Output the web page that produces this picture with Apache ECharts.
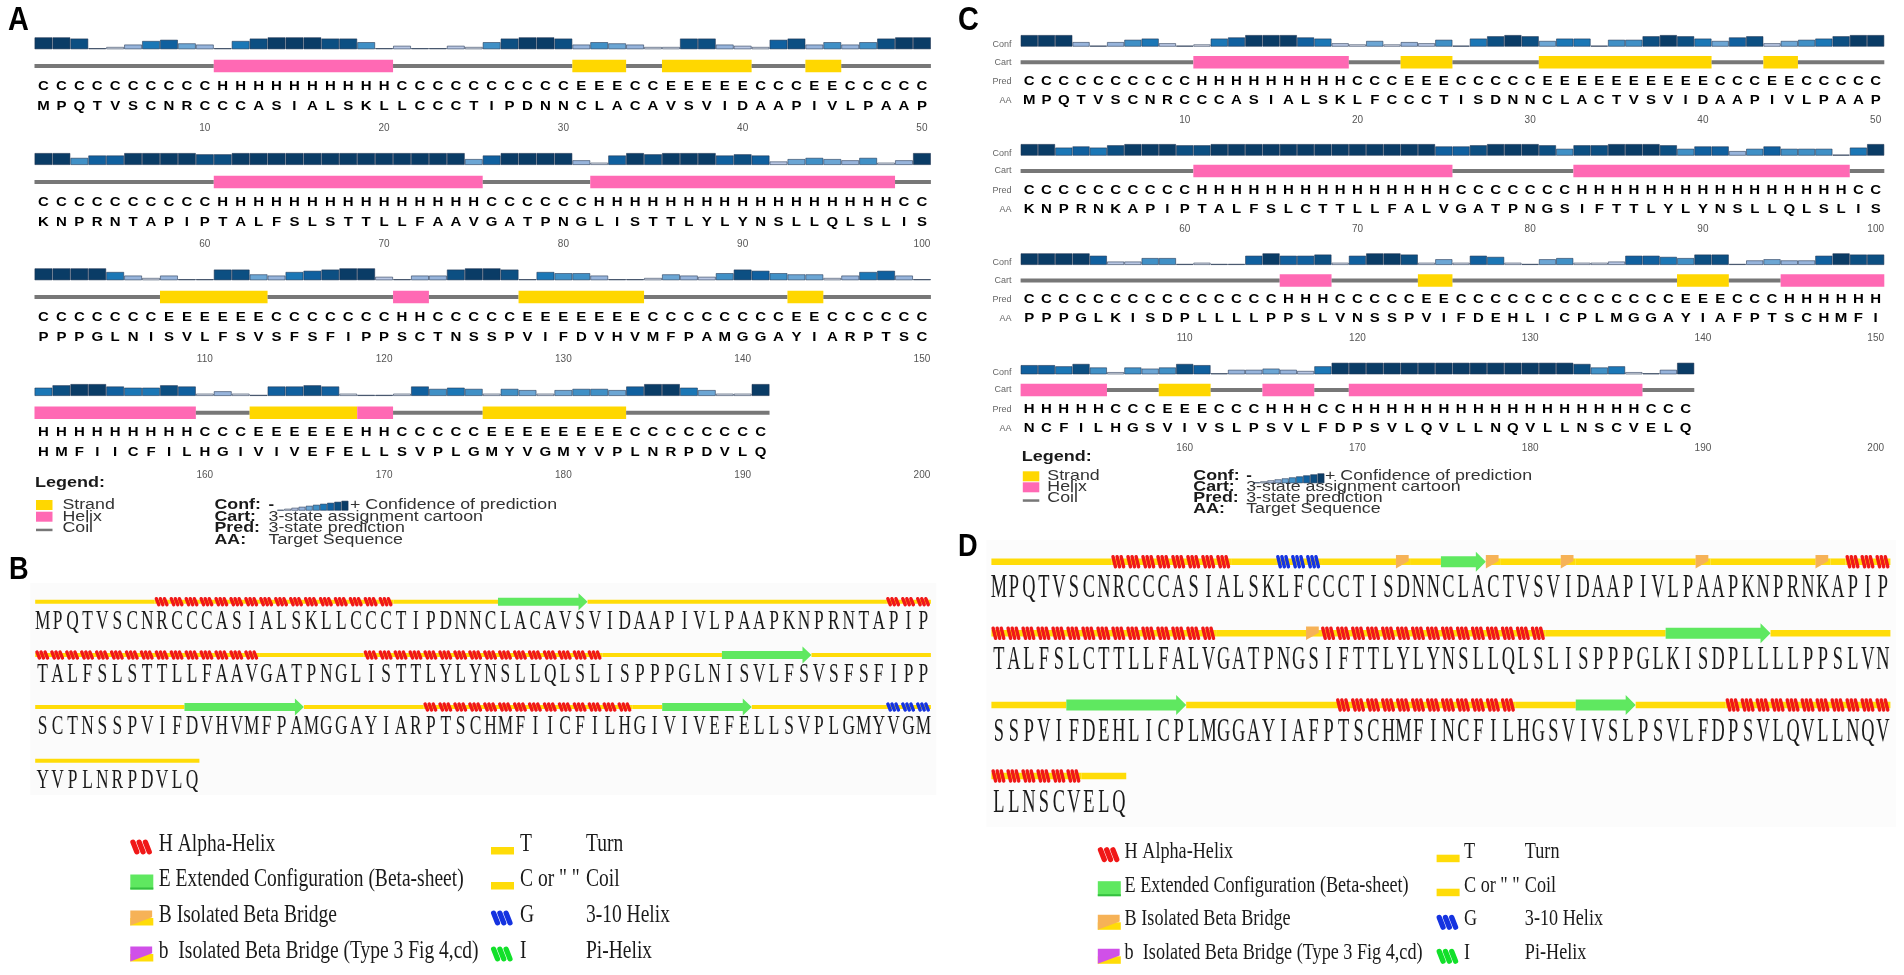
<!DOCTYPE html>
<html>
<head>
<meta charset="utf-8">
<title>Secondary structure prediction</title>
<style>
html, body { margin: 0; padding: 0; background: #fff; }
#chart { width: 1904px; height: 975px; }
</style>
<script src="https://cdn.jsdelivr.net/npm/echarts@6/dist/echarts.min.js"></script>
</head>
<body>
<div id="chart"></div>
<script>
// panel A: target sequence, 3-state prediction, confidence (0-9)
var seqA = [
    'MPQTVSCNRCCCASIALSKLLCCCTIPDNNCLACAVSVIDAAPIVLPAAP',
    'KNPRNTAPIPTALFSLSTTLLFAAVGATPNGLISTTLYLYNSLLQLSLIS',
    'PPPGLNISVLFSVSFSFIPPSCTNSSPVIFDVHVMFPAMGGAYIARPTSC',
    'HMFIICFILHGIVIVEFELLSVPLGMYVGMYVPLNRPDVLQ'
];
var predA = [
    'CCCCCCCCCCHHHHHHHHHHCCCCCCCCCCEEECCEEEEECCCEECCCCC',
    'CCCCCCCCCCHHHHHHHHHHHHHHHCCCCCCHHHHHHHHHHHHHHHHHCC',
    'CCCCCCCEEEEEECCCCCCCHHCCCCCEEEEEEECCCCCCCCEECCCCCC',
    'HHHHHHHHHCCCEEEEEEHHCCCCCEEEEEEEECCCCCCCC'
];
var confA1 = [9,9,8,0,1,3,6,7,4,3,0,6,8,9,9,9,8,8,5,0,2,0,0,2,1,5,8,9,9,8,3,5,4,3,1,1,8,8,3,2,1,7,8,3,5,3,5,8,9,9];
var confA2 = [9,9,5,7,7,9,9,9,9,8,8,9,9,9,9,9,9,9,9,9,9,9,9,9,4,7,9,9,9,9,3,1,7,9,8,9,9,9,7,8,7,2,4,5,4,3,5,1,3,9];
var confA3 = [9,9,9,9,6,3,1,3,0,0,8,8,4,3,6,7,8,9,9,2,0,3,3,8,9,9,8,0,6,5,5,3,0,0,1,4,3,2,5,8,7,5,4,4,1,3,6,7,3,0];
var confA4 = [6,8,9,9,7,6,6,8,7,1,3,1,0,7,7,8,7,1,0,0,1,7,5,6,5,1,5,4,1,4,5,5,4,7,9,9,6,4,1,1,9];

// panel C
var seqC = [
    'MPQTVSCNRCCCASIALSKLFCCCTISDNNCLACTVSVIDAAPIVLPAAP',
    'KNPRNKAPIPTALFSLCTTLLFALVGATPNGSIFTTLYLYNSLLQLSLIS',
    'PPPGLKISDPLLLLPPSLVNSSPVIFDEHLICPLMGGAYIAFPTSCHMFI',
    'NCFILHGSVIVSLPSVLFDPSVLQVLLNQVLLNSCVELQ'
];
var predC = [
    'CCCCCCCCCCHHHHHHHHHCCCEEECCCCCEEEEEEEEEECCCEECCCCC',
    'CCCCCCCCCCHHHHHHHHHHHHHHHCCCCCCCHHHHHHHHHHHHHHHHCC',
    'CCCCCCCCCCCCCCCHHHCCCCCEECCCCCCCCCCCCCEEECCCHHHHHH',
    'HHHHHCCCEEECCCHHHCCHHHHHHHHHHHHHHHHHCCC'
];
var confC1 = [9,9,9,3,0,3,5,6,2,0,1,6,7,9,9,9,7,6,2,1,4,1,3,2,5,0,6,8,9,8,4,6,6,0,5,5,8,9,8,6,4,7,8,2,4,5,6,8,9,9];
var confC2 = [9,9,6,7,6,8,9,9,9,8,8,9,9,9,9,9,9,9,9,9,9,9,9,9,7,7,8,9,9,9,8,5,8,8,9,9,9,8,5,7,7,3,5,7,5,5,5,0,6,9];
var confC3 = [9,9,9,9,7,2,2,5,5,0,1,0,0,7,9,7,7,8,1,7,9,9,8,1,4,1,7,6,1,0,4,5,1,1,2,7,7,6,5,8,8,0,3,4,3,3,7,9,8,8];
var confC4 = [7,7,6,8,5,1,5,4,5,8,7,0,3,3,4,3,2,6,9,9,9,9,9,9,9,9,9,9,9,9,9,9,8,5,6,1,0,3,9];

// panels B and D: per residue structure codes
var seqB = [
    'MPQTVSCNRCCCASIALSKLLCCCTIPDNNCLACAVSVIDAAPIVLPAAPKNPRNTAPIP',
    'TALFSLSTTLLFAAVGATPNGLISTTLYLYNSLLQLSLISPPPGLNISVLFSVSFSFIPP',
    'SCTNSSPVIFDVHVMFPAMGGAYIARPTSCHMFIICFILHGIVIVEFELLSVPLGMYVGM',
    'YVPLNRPDVLQ'
];
var ssB = [
    'CCCCCCCCHHHHHHHHHHHHHHHHCCCCCCCEEEEEECCCCCCCCCCCCCCCCCCCCHHH',
    'HHHHHHHHHHHHHHHCCCCCCCHHHHHHHHHHHHHHHHCCCCCCCCEEEEEECCCCCCCC',
    'CCCCCCCCCCEEEEEEEECCCCCCCCHHHHHHHHHHHHHHCCEEEEEECCCCCCCCCGGG',
    'CCCCCCCCCCC'
];
var seqD = [
    'MPQTVSCNRCCCASIALSKLFCCCTISDNNCLACTVSVIDAAPIVLPAAPKNPRNKAPIP',
    'TALFSLCTTLLFALVGATPNGSIFTTLYLYNSLLQLSLISPPPGLKISDPLLLLPPSLVN',
    'SSPVIFDEHLICPLMGGAYIAFPTSCHMFINCFILHGSVIVSLPSVLFDPSVLQVLLNQV',
    'LLNSCVELQ'
];
var ssD = [
    'CCCCCCCCHHHHHHHHCCCGGGCCCCCBCCEEEBCCCCBCCCCCCCCBCCCCCCCBCHHH',
    'HHHHHHHHHHHHHHHCCCCCCBHHHHHHHHHHHHHHHCCCCCCCCEEEEEEECCCCCCCC',
    'CCCCCEEEEEEEECCCCCCCCCCHHHHHHHHHHHHCCCCEEEECCCCCCHHHHHHHHHHH',
    'HHHHHHCCC'
];

var confLegend = [0,1,2,3,4,5,6,7,8,9];
var confColors = ['#3a3f46','#e2e5ee','#b8c6e2','#97b4db','#6ca6d4','#4090c6','#1b77b6','#10609f','#0c4f82','#0a3c66'];
var residueLabels = ['Cart','Pred','AA'];

var grids = [], xAxes = [], yAxes = [], series = [];

function runsOf(str) {
    var runs = [], start = 0;
    for (var i = 1; i <= str.length; i++) {
        if (i === str.length || str[i] !== str[start]) {
            runs.push([start, 0, i - 1]);
            start = i;
        }
    }
    return runs;
}

function addGrid(top, height, left, width, xAxis, yAxis) {
    grids.push({ left: left, top: top, width: width, height: height });
    xAxis.gridIndex = yAxis.gridIndex = grids.length - 1;
    xAxes.push(xAxis);
    yAxes.push(yAxis);
    return grids.length - 1;
}

function hiddenCategory(data) {
    return {
        type: 'category', data: data,
        axisLine: { show: false }, axisTick: { show: false },
        axisLabel: { show: false }, splitLine: { show: false }
    };
}

function numbers(from, count) {
    var out = [];
    for (var i = 0; i < count; i++) out.push(from + i);
    return out;
}

function letterSeries(idx, letters, rowIndex, font, scaleX, fill) {
    return {
        type: 'custom',
        xAxisIndex: idx, yAxisIndex: idx,
        silent: true,
        data: letters.split('').map(function (c, i) { return [i, rowIndex]; }),
        encode: { x: 0, y: 1 },
        renderItem: function (params, api) {
            var p = api.coord([api.value(0), api.value(1)]);
            return {
                type: 'text', x: p[0], y: p[1], scaleX: scaleX,
                style: {
                    text: letters[params.dataIndex], font: font, fill: fill,
                    textAlign: 'center', textVerticalAlign: 'middle'
                }
            };
        }
    };
}

function confSeries(idx, values) {
    return {
        type: 'bar',
        xAxisIndex: idx, yAxisIndex: idx,
        silent: true,
        barCategoryGap: '0%',
        data: values.map(function (v) {
            return {
                value: v + 1,
                itemStyle: { color: confColors[v], borderColor: 'rgba(30,50,80,0.7)', borderWidth: 0.8 }
            };
        })
    };
}

// psipred style panel (A, C)
function addPsipredPanel(seq, pred, conf, lay) {
    lay.rows.forEach(function (row, r) {
        var first = r * 50 + 1;
        var confIdx = addGrid(row.conf, lay.confH, lay.left, lay.width,
            hiddenCategory(numbers(first, 50)),
            {
                type: 'value', min: 0, max: 10, interval: 2,
                axisLine: { show: false }, axisTick: { show: false }, splitLine: { show: false },
                axisLabel: {
                    show: lay.rowLabels, fontSize: 9, color: '#666', margin: 9, fontFamily: 'Liberation Sans',
                    formatter: function (v) { return v === 2 ? 'Conf' : ''; }
                }
            });
        series.push(confSeries(confIdx, conf[r]));

        var xa = hiddenCategory(numbers(first, 50));
        xa.position = 'bottom';
        xa.axisLabel = {
            show: true, fontSize: 10, color: '#555', margin: lay.tickMargin, fontFamily: 'Liberation Sans',
            hideOverlap: false,
            interval: function (i, v) { return Number(v) % 10 === 0; }
        };
        var ya = hiddenCategory(residueLabels);
        ya.inverse = true;
        ya.axisLabel = { show: lay.rowLabels, fontSize: 9, color: '#666', margin: 9, fontFamily: 'Liberation Sans' };
        var idx = addGrid(row.cart - lay.band / 2, lay.band * 3, lay.left, lay.width, xa, ya);

        var p = pred[r];
        series.push({
            type: 'custom', xAxisIndex: idx, yAxisIndex: idx, silent: true,
            data: runsOf(p), encode: { x: 0, y: 1 },
            renderItem: function (params, api) {
                var w = api.size([1, 0])[0];
                var a = api.coord([api.value(0), 0]);
                var b = api.coord([api.value(2), 0]);
                var code = p[api.value(0)];
                var h = code === 'C' ? 4 : lay.cartH;
                return {
                    type: 'rect',
                    shape: { x: a[0] - w / 2, y: a[1] - h / 2, width: b[0] - a[0] + w, height: h },
                    style: { fill: code === 'H' ? '#ff69b4' : code === 'E' ? '#ffd700' : '#777777' }
                };
            }
        });
        series.push(letterSeries(idx, p, 1, 'bold 12px "Liberation Sans"', 1.25, '#000'));
        series.push(letterSeries(idx, seq[r], 2, 'bold 12px "Liberation Sans"', 1.25, '#000'));
    });
}

// helix ribbon drawn as three slanted lobes
function lobes(x, y, w, h, color) {
    var out = [], lw = w * 0.23, span = w * 0.94, slant = w / 6;
    for (var i = 0; i < 3; i++) {
        var lx = x + lw / 2 + i * (span - lw - slant) / 2;
        out.push({
            type: 'line',
            shape: { x1: lx, y1: y - h / 2 + lw / 2, x2: lx + slant, y2: y + h / 2 - lw / 2 },
            style: { stroke: color, lineWidth: lw, lineCap: 'round' }
        });
    }
    return out;
}

function arrow(x0, x1, y, bodyH, headH, headW) {
    return [{
        type: 'polygon',
        shape: {
            points: [
                [x0, y - bodyH / 2], [x1 - headW, y - bodyH / 2], [x1 - headW, y - headH / 2],
                [x1, y], [x1 - headW, y + headH / 2], [x1 - headW, y + bodyH / 2], [x0, y + bodyH / 2]
            ]
        },
        style: { fill: '#5fe860' }
    }];
}

function pennant(x, y, w, h, color) {
    return [{
        type: 'polygon',
        shape: {
            points: [[x, y - h / 2], [x + w, y - h / 2], [x + w, y - h * 0.05], [x, y + h / 2]]
        },
        style: { fill: color }
    }];
}

// sequence track panel (B, D)
function addTrackPanel(seq, ss, lay) {
    lay.rows.forEach(function (row, r) {
        var idx = addGrid(row - lay.band / 2, lay.band * 2, lay.left, lay.width,
            hiddenCategory(numbers(1, 60)),
            (function () { var y = hiddenCategory(['track', 'seq']); y.inverse = true; return y; })());
        var s = ss[r];
        series.push({
            type: 'custom', xAxisIndex: idx, yAxisIndex: idx, silent: true,
            data: runsOf(s), encode: { x: 0, y: 1 },
            renderItem: function (params, api) {
                var w = api.size([1, 0])[0];
                var a = api.coord([api.value(0), 0]);
                var b = api.coord([api.value(2), 0]);
                var code = s[api.value(0)];
                var x0 = a[0] - w / 2, x1 = b[0] + w / 2, y = a[1];
                var kids = [];
                if (code === 'E') {
                    kids = arrow(x0, x1, y, lay.bodyH, lay.headH, lay.headW);
                } else {
                    kids.push({
                        type: 'rect',
                        shape: { x: x0, y: y - lay.coilH / 2, width: x1 - x0, height: lay.coilH },
                        style: { fill: '#ffdc08' }
                    });
                    for (var i = api.value(0); i <= api.value(2); i++) {
                        var x = x0 + (i - api.value(0)) * w;
                        if (code === 'H') kids = kids.concat(lobes(x, y, w, lay.helixH, '#f01818'));
                        if (code === 'G') kids = kids.concat(lobes(x, y, w, lay.helixH, '#1533e0'));
                        if (code === 'B') kids = kids.concat(pennant(x, y, w * 0.85, lay.helixH, '#f6b257'));
                    }
                }
                return { type: 'group', children: kids };
            }
        });
        series.push(letterSeries(idx, seq[r], 1, lay.font, lay.scaleX, '#1a1a1a'));
    });
}

addPsipredPanel(seqA, predA, [confA1, confA2, confA3, confA4], {
    left: 34.5, width: 896.4, band: 20.2, confH: 12, cartH: 12.6, tickMargin: 7, rowLabels: false,
    rows: [{ conf: 37.3, cart: 66 }, { conf: 153, cart: 182 }, { conf: 268.3, cart: 297 }, { conf: 384, cart: 412.7 }]
});
addPsipredPanel(seqC, predC, [confC1, confC2, confC3, confC4], {
    left: 1020.6, width: 863.7, band: 19.2, confH: 11.7, cartH: 12.4, tickMargin: 5, rowLabels: true,
    rows: [{ conf: 35, cart: 62.3 }, { conf: 144, cart: 171 }, { conf: 253.3, cart: 280.5 }, { conf: 362.7, cart: 390 }]
});
addTrackPanel(seqB, ssB, {
    left: 35.2, width: 895.7, band: 20, coilH: 4, helixH: 9.5, bodyH: 8, headH: 17, headW: 9,
    font: '28px "Liberation Serif"', scaleX: 0.62,
    rows: [601.7, 655, 707, 760.7]
});
addTrackPanel(seqD, ssD, {
    left: 991.4, width: 899, band: 26.8, coilH: 6.5, helixH: 13.5, bodyH: 11, headH: 20, headW: 10,
    font: '34px "Liberation Serif"', scaleX: 0.54,
    rows: [561.7, 633.3, 705, 776]
});

// confidence staircase in the A and C legends
[[277, 500.7], [1253, 473.3]].forEach(function (pos) {
    var idx = addGrid(pos[1], 10, pos[0], 71.5, hiddenCategory(confLegend),
        { type: 'value', min: 0, max: 10, show: false });
    series.push(confSeries(idx, confLegend));
});

function txt(x, y, text, font, scaleX, fill) {
    return {
        type: 'text', x: x, y: y, scaleX: scaleX, silent: true,
        style: { text: text, font: font, fill: fill || '#1a1a1a', textAlign: 'left', textVerticalAlign: 'middle' }
    };
}

function box(x, y, w, h, fill, z) {
    return { type: 'rect', z: z, silent: true, shape: { x: x, y: y, width: w, height: h }, style: { fill: fill } };
}

var graphics = [
    box(30.3, 583, 906, 212, '#fbfbfb', -1),
    box(986.5, 540, 909.4, 287, '#fcfcfc', -1),
    txt(8, 21, 'A', 'bold 34px "Liberation Sans"', 0.85, '#000'),
    txt(9, 570, 'B', 'bold 32px "Liberation Sans"', 0.85, '#000'),
    txt(958, 21, 'C', 'bold 34px "Liberation Sans"', 0.85, '#000'),
    txt(958, 547, 'D', 'bold 32px "Liberation Sans"', 0.85, '#000')
];

// psipred legend
function psipredLegend(x, cols, ys, legendY, labelX, plusX) {
    var sans = '14px "Liberation Sans"', bold = 'bold 14px "Liberation Sans"', sx = 1.27;
    graphics.push(txt(x, legendY, 'Legend:', 'bold 15px "Liberation Sans"', 1.2));
    graphics.push(box(x + 1, ys[0] - 5, 16.5, 10, '#ffd700'));
    graphics.push(box(x + 1, ys[1] - 5, 16.5, 10, '#ff69b4'));
    graphics.push(box(x + 1, ys[2] + 1, 16.5, 2.5, '#777777'));
    graphics.push(txt(labelX, ys[0], 'Strand', sans, sx, '#333'));
    graphics.push(txt(labelX, ys[1], 'Helix', sans, sx, '#333'));
    graphics.push(txt(labelX, ys[2], 'Coil', sans, sx, '#333'));
    graphics.push(txt(cols[0], ys[0], 'Conf:', bold, sx));
    graphics.push(txt(cols[0], ys[1], 'Cart:', bold, sx));
    graphics.push(txt(cols[0], ys[2], 'Pred:', bold, sx));
    graphics.push(txt(cols[0], ys[3], 'AA:', bold, sx));
    graphics.push(txt(cols[1], ys[0], '-', bold, 1.2));
    graphics.push(txt(plusX, ys[0], '+ Confidence of prediction', sans, sx, '#333'));
    graphics.push(txt(cols[1], ys[1], '3-state assignment cartoon', sans, sx, '#333'));
    graphics.push(txt(cols[1], ys[2], '3-state prediction', sans, sx, '#333'));
    graphics.push(txt(cols[1], ys[3], 'Target Sequence', sans, sx, '#333'));
}
psipredLegend(35, [214.5, 268.5], [505, 516.7, 527.7, 539.7], 483, 62.4, 350);
psipredLegend(1021.8, [1193.3, 1246.2], [476.3, 487.3, 498.3, 509.3], 456.7, 1047.3, 1325);

// track legend
function icon(kind, x, y, w, h) {
    var kids = [];
    var yellow = { type: 'rect', shape: { x: x, y: y, width: w, height: h * 0.5 }, style: { fill: '#ffdc08' } };
    if (kind === 'H' || kind === 'G' || kind === 'I') {
        kids = lobes(x, y, w, h, kind === 'H' ? '#f01818' : kind === 'G' ? '#1533e0' : '#12e02a');
    } else if (kind === 'E') {
        kids = [
            { type: 'rect', shape: { x: x, y: y - h / 2, width: w, height: h }, style: { fill: '#5fe860' } },
            { type: 'rect', shape: { x: x, y: y + h / 2 - 2, width: w, height: 2 }, style: { fill: '#35c040' } }
        ];
    } else if (kind === 'T') {
        kids = [yellow];
    } else if (kind === 'B') {
        kids = [yellow].concat(pennant(x, y, w * 0.95, h, '#f6b257'));
    } else if (kind === 'b') {
        kids = [yellow].concat(pennant(x, y, w * 0.95, h, '#d050e8'));
    }
    return { type: 'group', silent: true, children: kids };
}

var legendLeft = [['H', 'H Alpha-Helix'], ['E', 'E Extended Configuration (Beta-sheet)'], ['B', 'B Isolated Beta Bridge'], ['b', 'b  Isolated Beta Bridge (Type 3 Fig 4,cd)']];
var legendRight = [['T', 'T', 'Turn'], ['T', 'C or " "', 'Coil'], ['G', 'G', '3-10 Helix'], ['I', 'I', 'Pi-Helix']];

function trackLegend(cols, ys, font, sx) {
    ys.forEach(function (y, i) {
        graphics.push(icon(legendLeft[i][0], cols[0], y + 3, 23, 15));
        graphics.push(txt(cols[1], y, legendLeft[i][1], font, sx));
        graphics.push(icon(legendRight[i][0], cols[2], y + 3, 23, 15));
        graphics.push(txt(cols[3], y, legendRight[i][1], font, sx));
        graphics.push(txt(cols[4], y, legendRight[i][2], font, sx));
    });
}
trackLegend([130.3, 158.8, 491, 520, 586], [844, 879, 915, 951], '25px "Liberation Serif"', 0.78);
trackLegend([1097.8, 1124.6, 1436.6, 1464, 1524.8], [851.7, 885.7, 919.3, 953.3], '23px "Liberation Serif"', 0.79);

var chart = echarts.init(document.getElementById('chart'));
chart.setOption({
    backgroundColor: '#ffffff',
    animation: false,
    tooltip: { show: false },
    grid: grids,
    xAxis: xAxes,
    yAxis: yAxes,
    series: series,
    graphic: { elements: graphics }
});
</script>
</body>
</html>
